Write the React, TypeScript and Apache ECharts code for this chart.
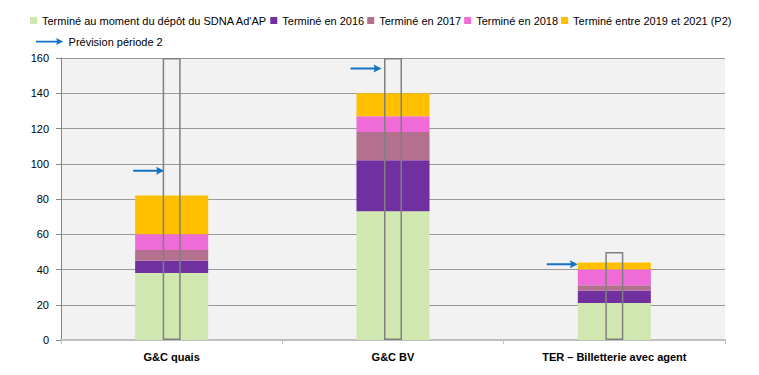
import React, { useEffect, useRef } from "react";
import * as echarts from "echarts";

const categories = ["G&C quais", "G&C BV", "TER – Billetterie avec agent"];
const seriesNames = [
  "Terminé au moment du dépôt du SDNA Ad'AP",
  "Terminé en 2016",
  "Terminé en 2017",
  "Terminé en 2018",
  "Terminé entre 2019 et 2021 (P2)",
];
const depot = [38, 73, 21];
const en2016 = [7, 29, 7];
const en2017 = [6, 16, 3];
const en2018 = [9, 9, 9];
const p2 = [22, 13, 4];
const totalOutline = [160, 160, 50];
const previsionName = "Prévision période 2";
const prevision = [96, 154, 43];
const arrowOffsets = [-23, -27, -52];
const yTicks = { min: 0, max: 160, interval: 20 };

const colors = ["#D0E8B0", "#7030A0", "#B4708F", "#EE6BD8", "#FFC000"];
const FONT = "Liberation Sans";
const ARROW = "path://M0,3 L24,3 L23,0 L31,4 L23,8 L24,5 L0,5 Z";

export default function App() {
  const ref = useRef<HTMLDivElement>(null);
  useEffect(() => {
    if (!ref.current) return;
    const chart = echarts.init(ref.current, null, { renderer: "svg" });
    const stackData = [depot, en2016, en2017, en2018, p2];
    chart.setOption({
      animation: false,
      textStyle: { fontFamily: FONT },
      grid: {
        left: 61,
        right: 34,
        top: 58,
        bottom: 35,
        show: true,
        backgroundColor: "#F2F2F2",
        borderWidth: 0,
      },
      legend: [
        {
          data: seriesNames,
          left: 25,
          top: 10,
          itemWidth: 7,
          itemHeight: 7,
          itemGap: 3,
          icon: "rect",
          textStyle: { fontFamily: FONT, fontSize: 11, color: "#000" },
        },
        {
          data: [{ name: previsionName, icon: ARROW }],
          left: 31,
          top: 31,
          itemWidth: 28,
          itemHeight: 7,
          textStyle: { fontFamily: FONT, fontSize: 11, color: "#000" },
        },
      ],
      xAxis: [
        {
          type: "category",
          data: categories,
          axisLine: { lineStyle: { color: "#BFBFBF", width: 2 } },
          axisTick: { show: true, length: 4, lineStyle: { color: "#BFBFBF" } },
          axisLabel: { color: "#000", fontWeight: "bold", fontSize: 11, margin: 11, fontFamily: FONT },
        },
        { type: "category", data: categories, show: false },
      ],
      yAxis: {
        type: "value",
        min: yTicks.min,
        max: yTicks.max,
        interval: yTicks.interval,
        axisLine: { show: true, lineStyle: { color: "#868686" } },
        axisTick: { show: true, length: 5, lineStyle: { color: "#868686" } },
        splitLine: { lineStyle: { color: "#999999", width: 1 } },
        axisLabel: { color: "#000", fontSize: 11, margin: 12, fontFamily: FONT },
      },
      series: [
        ...seriesNames.map((name, i) => ({
          name,
          type: "bar",
          stack: "total",
          xAxisIndex: 0,
          barWidth: "33%",
          data: stackData[i],
          itemStyle: { color: colors[i] },
          z: 2,
        })),
        {
          name: "outline",
          type: "bar",
          xAxisIndex: 1,
          barWidth: 18,
          data: totalOutline,
          itemStyle: { color: "rgba(0,0,0,0)", borderColor: "#808080", borderWidth: 1.5 },
          z: 5,
        },
        {
          name: previsionName,
          type: "scatter",
          xAxisIndex: 0,
          symbol: ARROW,
          symbolSize: [31, 8],
          itemStyle: { color: "#1372C4", opacity: 1 },
          data: prevision.map((v, i) => ({ value: v, symbolOffset: [arrowOffsets[i], 0] })),
          z: 6,
        },
      ],
    });
    return () => chart.dispose();
  }, []);
  return <div ref={ref} style={{ width: 759, height: 375, margin: -8 }} />;
}
